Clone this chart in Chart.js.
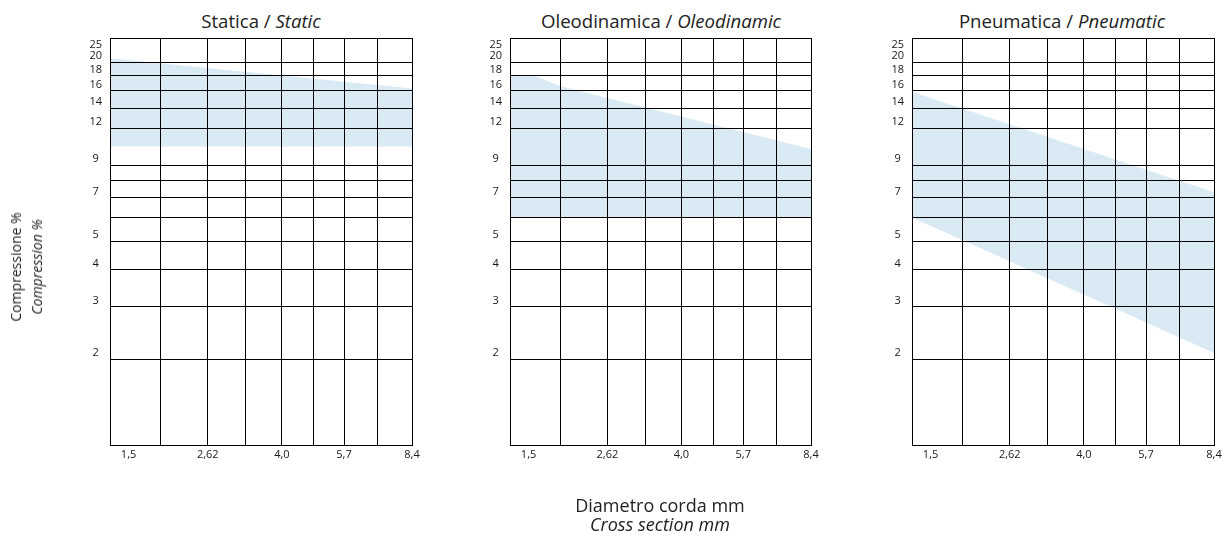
<!DOCTYPE html>
<html>
<head>
<meta charset="utf-8">
<script src="https://cdn.jsdelivr.net/npm/chart.js@4.4.0/dist/chart.umd.min.js"></script>
<style>
  html, body { margin: 0; padding: 0; background: #fff; }
  body { width: 1230px; height: 536px; position: relative; overflow: hidden;
         font-family: "Open Sans", sans-serif; color: #222; }
  canvas { position: absolute; top: 0; }
  .title { position: absolute; top: 12px; font-size: 18.6px; line-height: 18px;
           white-space: nowrap; transform: translateX(-50%); }
  .ytitle { position: absolute; left: 25.5px; top: 267px; font-size: 14px; line-height: 21px;
            text-align: center; white-space: nowrap; transform: translate(-50%, -50%) rotate(-90deg); }
  .xtitle { position: absolute; left: 660px; top: 496px; font-size: 18px; line-height: 19px;
            text-align: center; white-space: nowrap; transform: translateX(-50%); }
</style>
</head>
<body>
<div class="title" style="left:261px">Statica / <i>Static</i></div>
<div class="title" style="left:661px">Oleodinamica / <i>Oleodinamic</i></div>
<div class="title" style="left:1062px">Pneumatica / <i>Pneumatic</i></div>

<canvas id="chart-static" width="440" height="536" style="left:0px"></canvas>
<canvas id="chart-oleo" width="420" height="536" style="left:420px"></canvas>
<canvas id="chart-pneu" width="400" height="536" style="left:830px"></canvas>

<div class="ytitle">Compressione %<br><i>Compression %</i></div>
<div class="xtitle">Diametro corda mm<br><i>Cross section mm</i></div>

<script>
// axes (log scales on both)
const xMin = 1.5, xMax = 8.4;
const yMin = 1.03, yMax = 24.1;
const xTicks = [1.5, 2, 2.62, 3.25, 4, 4.8, 5.7, 6.9, 8.4];
const xTickLabels = ['1,5', '', '2,62', '', '4,0', '', '5,7', '', '8,4'];
const yTicks = [2, 3, 4, 5, 6, 7, 8, 9, 12, 14, 16, 18, 20, yMax];
const yTickLabels = ['2', '3', '4', '5', '', '7', '', '9', '12', '14', '16', '18', '20', '25'];

// bands: lower / upper compression % against cross section
const staticX = [1.5, 8.4];
const staticLow = [10.4, 10.4];
const staticHigh = [20.6, 16.3];

const oleoX = [1.5, 1.73, 2.0, 8.4];
const oleoLow = [6, 6, 6, 6];
const oleoHigh = [18, 18, 16.6, 10.2];

const pneuX = [1.5, 8.4];
const pneuLow = [6, 2.1];
const pneuHigh = [15.9, 7.3];

const bandColor = '#d9eaf5';
const tickFont = { family: 'Open Sans', size: 11 };

function makeChart(id, xs, low, high, padLeft, padRight){
  const pts = arr => xs.map((x, i) => ({ x, y: arr[i] }));
  return new Chart(document.getElementById(id), {
    type: 'line',
    data: {
      datasets: [
        { data: pts(low), borderColor: 'transparent', pointRadius: 0, fill: false },
        { data: pts(high), borderColor: 'transparent', backgroundColor: bandColor, pointRadius: 0, fill: '-1' }
      ]
    },
    options: {
      responsive: false,
      animation: false,
      devicePixelRatio: 1,
      events: [],
      layout: { padding: { left: padLeft, right: padRight, top: 38, bottom: 61 } },
      plugins: { legend: { display: false }, tooltip: { enabled: false } },
      scales: {
        x: {
          type: 'logarithmic', min: xMin, max: xMax,
          afterBuildTicks: s => { s.ticks = xTicks.map(v => ({ value: v })); },
          afterFit: s => { s.height = 30; s.paddingLeft = 0; s.paddingRight = 0; },
          grid: { color: '#000', lineWidth: 1, drawTicks: false, z: 1 },
          border: { color: '#000', width: 1, z: 1 },
          ticks: {
            autoSkip: false, maxRotation: 0, padding: 3, color: '#1a1a1a', font: tickFont,
            // first label sits inside the plot, not on the edge
            callback: (v, i) => i === 0 ? ' '.repeat(13) + xTickLabels[0] : xTickLabels[i]
          }
        },
        y: {
          type: 'logarithmic', min: yMin, max: yMax,
          afterBuildTicks: s => { s.ticks = yTicks.map(v => ({ value: v })); },
          afterFit: s => { s.width = 40; s.paddingTop = 0; s.paddingBottom = 0; },
          grid: { color: '#000', lineWidth: 1, drawTicks: false, z: 1 },
          border: { color: '#000', width: 1, z: 1 },
          ticks: {
            autoSkip: false, crossAlign: 'center', padding: 8, labelOffset: -6,
            color: '#1a1a1a', font: tickFont,
            callback: (v, i) => i === yTicks.length - 1 ? ['', '', yTickLabels[i]] : yTickLabels[i]
          }
        }
      }
    }
  });
}

makeChart('chart-static', staticX, staticLow, staticHigh, 70, 28);
makeChart('chart-oleo', oleoX, oleoLow, oleoHigh, 50, 29);
makeChart('chart-pneu', pneuX, pneuLow, pneuHigh, 42, 16);
</script>
</body>
</html>
